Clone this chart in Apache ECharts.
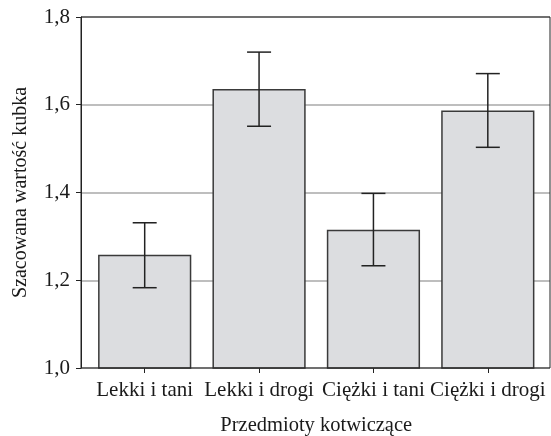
<!DOCTYPE html>
<html>
<head>
<meta charset="utf-8">
<script src="https://cdn.jsdelivr.net/npm/echarts@6/dist/echarts.min.js"></script>
<style>html,body{margin:0;padding:0;background:#fff;}#c{width:551px;height:436px;}</style>
</head>
<body>
<div id="c"></div>
<script>
const categories = ['Lekki i tani', 'Lekki i drogi', 'Ciężki i tani', 'Ciężki i drogi'];
const means = [1.258, 1.636, 1.315, 1.587];
const errLow = [1.183, 1.551, 1.233, 1.503];
const errHigh = [1.331, 1.720, 1.398, 1.671];
const yTicks = [1.0, 1.2, 1.4, 1.6, 1.8];

const font = '"Liberation Serif", "Times New Roman", serif';
const fmt = v => { const t = yTicks.find(x => Math.abs(x - v) < 1e-6); return (t !== undefined ? t : v).toFixed(1).replace('.', ','); };
const chart = echarts.init(document.getElementById('c'), null, {renderer: 'canvas'});
chart.setOption({
  animation: false,
  backgroundColor: '#fff',
  grid: [
    {left: 87.5, right: 6, top: 17, bottom: 68, containLabel: false, outerBoundsMode: 'none', show: false},
    {left: 81, right: 1, top: 17, bottom: 68, containLabel: false, outerBoundsMode: 'none',
      show: true, borderColor: '#222', borderWidth: 1, backgroundColor: 'transparent', z: 4}
  ],
  xAxis: [
    {
      type: 'category',
      gridIndex: 0,
      data: categories,
      name: 'Przedmioty kotwiczące',
      nameLocation: 'middle',
      nameGap: 47,
      nameTextStyle: {fontFamily: font, fontSize: 20.5, color: '#1a1a1a'},
      axisLine: {show: false},
      axisTick: {show: true, alignWithLabel: true, length: 5, lineStyle: {color: '#222'}},
      axisLabel: {fontFamily: font, fontSize: 21, color: '#1a1a1a', margin: 12, interval: 0},
      splitLine: {show: false}
    },
    {type: 'value', gridIndex: 1, min: 0, max: 1, show: false}
  ],
  yAxis: [
    {
      type: 'value',
      gridIndex: 0,
      min: 1.0, max: 1.8, interval: 0.2,
      offset: 6.5,
      name: 'Szacowana wartość kubka',
      nameLocation: 'middle',
      nameGap: 50,
      nameTextStyle: {fontFamily: font, fontSize: 20, color: '#1a1a1a'},
      axisLine: {show: true, lineStyle: {color: '#222', width: 1}},
      axisTick: {show: true, length: 5, lineStyle: {color: '#222'}},
      axisLabel: {fontFamily: font, fontSize: 21, color: '#1a1a1a', margin: 11, formatter: fmt},
      splitLine: {show: false}
    },
    {
      type: 'value',
      gridIndex: 1,
      min: 1.0, max: 1.8, interval: 0.2,
      axisLine: {show: false},
      axisTick: {show: false},
      axisLabel: {show: false},
      splitLine: {show: true, lineStyle: {color: '#a8a8a8', width: 1.5}}
    }
  ],
  series: [
    {
      type: 'bar',
      xAxisIndex: 0, yAxisIndex: 0,
      data: means,
      barWidth: '81.5%',
      itemStyle: {color: '#dcdde0', borderColor: '#3a3a3a', borderWidth: 1.5},
      z: 2
    },
    {
      type: 'custom',
      xAxisIndex: 0, yAxisIndex: 0,
      z: 3,
      data: categories.map((c, i) => [i, errLow[i], errHigh[i]]),
      renderItem: function (params, api) {
        const x = api.value(0);
        const lo = api.coord([x, api.value(1)]);
        const hi = api.coord([x, api.value(2)]);
        const hw = 12;
        const st = {stroke: '#222', lineWidth: 1.5};
        return {
          type: 'group',
          children: [
            {type: 'line', shape: {x1: lo[0], y1: lo[1], x2: hi[0], y2: hi[1]}, style: st},
            {type: 'line', shape: {x1: lo[0] - hw, y1: lo[1], x2: lo[0] + hw, y2: lo[1]}, style: st},
            {type: 'line', shape: {x1: hi[0] - hw, y1: hi[1], x2: hi[0] + hw, y2: hi[1]}, style: st}
          ]
        };
      }
    }
  ]
});
</script>
</body>
</html>
